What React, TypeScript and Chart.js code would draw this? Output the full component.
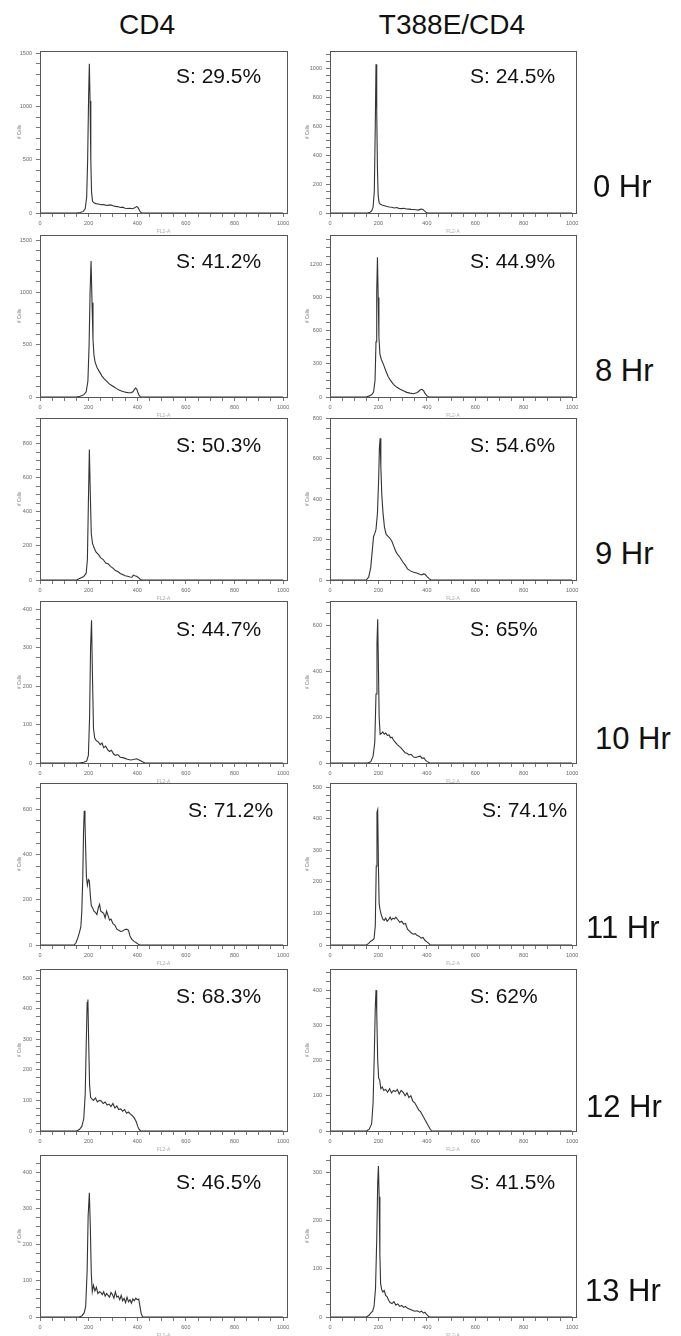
import React, { useEffect, useRef } from 'react';
import { Chart, registerables } from 'chart.js';
Chart.register(...registerables);

type Pt = [number, number];

// ---------- text & scale data ----------
const columnTitles = ['CD4', 'T388E/CD4'];
const hourLabels = ['0 Hr', '8 Hr', '9 Hr', '10 Hr', '11 Hr', '12 Hr', '13 Hr'];
const sPhaseCD4 = ['S: 29.5%', 'S: 41.2%', 'S: 50.3%', 'S: 44.7%', 'S: 71.2%', 'S: 68.3%', 'S: 46.5%'];
const sPhaseT388E = ['S: 24.5%', 'S: 44.9%', 'S: 54.6%', 'S: 65%', 'S: 74.1%', 'S: 62%', 'S: 41.5%'];
const xMajorStep = 200;
const xMinorStep = 50;
const xMax = 1016;
const yMaxCD4 = [1519, 1548, 950, 422, 718, 530, 449];
const yMaxT388E = [1121, 1467, 800, 705, 513, 460, 337];
const yMajorCD4 = [500, 500, 200, 100, 200, 100, 100];
const yMajorT388E = [200, 300, 200, 200, 100, 100, 100];
const yAxisTitle = '# Cells';
const xAxisTitle = 'FL2-A';

// ---------- histogram data: [channel, # cells] ----------
const cd4_0hr: Pt[] = [[0,0],[150,0],[165,5],[178,15],[186,40],[192,150],[196,500],[200,1100],[203,1400],[206,1050],[209,500],[212,200],[216,110],[222,95],[230,88],[240,85],[250,78],[260,80],[270,74],[280,72],[290,76],[300,68],[310,62],[320,60],[330,52],[340,55],[350,45],[360,42],[370,44],[380,40],[390,48],[397,60],[402,55],[407,35],[412,12],[418,0],[1000,0]];
const t388e_0hr: Pt[] = [[0,0],[155,0],[165,5],[172,15],[178,40],[183,150],[187,600],[190,1030],[193,700],[196,300],[199,120],[203,70],[208,60],[215,55],[225,50],[235,45],[245,42],[255,40],[265,35],[275,38],[285,32],[295,30],[305,33],[315,28],[325,27],[335,25],[345,24],[355,22],[365,20],[372,25],[378,28],[384,25],[390,15],[396,6],[402,0],[1000,0]];
const cd4_8hr: Pt[] = [[0,0],[150,0],[165,8],[180,20],[190,50],[197,150],[202,500],[206,1000],[210,1300],[214,900],[218,550],[222,400],[227,330],[235,280],[245,240],[255,200],[265,170],[275,150],[285,125],[295,110],[305,95],[315,80],[325,68],[335,58],[345,50],[355,44],[365,40],[375,42],[382,50],[388,70],[393,85],[398,75],[403,40],[408,15],[414,0],[1000,0]];
const t388e_8hr: Pt[] = [[0,0],[150,0],[160,8],[172,20],[180,45],[186,150],[190,500],[193,950],[196,1265],[199,900],[202,550],[206,390],[212,340],[220,300],[230,240],[240,185],[250,150],[262,115],[275,90],[290,70],[305,55],[317,42],[330,35],[345,30],[358,38],[366,50],[373,65],[380,70],[387,55],[393,30],[400,12],[408,0],[1000,0]];
const cd4_9hr: Pt[] = [[0,0],[150,0],[165,10],[180,20],[190,40],[195,120],[199,450],[203,765],[207,500],[211,270],[216,215],[222,190],[230,165],[240,150],[250,130],[260,120],[270,100],[280,95],[290,80],[300,70],[310,55],[320,50],[330,38],[340,32],[350,25],[360,22],[370,18],[378,16],[384,28],[390,25],[397,22],[404,15],[411,6],[418,0],[1000,0]];
const t388e_9hr: Pt[] = [[0,0],[150,0],[160,15],[168,60],[175,150],[180,215],[185,230],[190,250],[196,330],[201,500],[204,650],[207,700],[210,560],[214,420],[219,330],[225,260],[232,225],[240,215],[248,205],[256,190],[264,165],[272,140],[280,125],[290,110],[300,90],[310,75],[320,55],[332,45],[345,38],[358,35],[370,28],[378,25],[386,30],[393,28],[400,18],[408,8],[417,0],[1000,0]];
const cd4_10hr: Pt[] = [[0,0],[160,0],[180,2],[192,5],[199,20],[204,120],[208,300],[212,372],[216,220],[220,90],[225,65],[232,58],[240,55],[248,48],[255,52],[262,40],[270,44],[278,35],[286,30],[294,33],[302,24],[310,20],[320,22],[330,15],[340,14],[350,12],[360,10],[372,8],[385,9],[398,11],[410,7],[422,3],[432,0],[1000,0]];
const t388e_10hr: Pt[] = [[0,0],[155,0],[168,5],[178,30],[185,90],[190,300],[194,520],[197,625],[200,420],[203,200],[207,125],[212,128],[218,135],[224,125],[230,130],[237,120],[244,122],[250,110],[256,112],[262,100],[270,90],[278,80],[286,72],[294,65],[302,55],[310,45],[318,42],[326,35],[335,38],[345,26],[355,24],[365,28],[373,30],[380,20],[388,22],[396,10],[404,5],[412,0],[1000,0]];
const cd4_11hr: Pt[] = [[0,0],[140,0],[148,10],[155,30],[162,55],[168,80],[172,150],[176,300],[179,500],[182,595],[185,550],[188,420],[191,300],[195,265],[199,290],[203,285],[207,220],[211,175],[216,165],[222,150],[228,145],[234,135],[240,165],[245,180],[250,150],[256,145],[262,140],[268,120],[274,150],[280,130],[286,110],[292,115],[300,95],[308,88],[316,70],[324,65],[332,60],[340,62],[348,68],[356,70],[364,65],[370,40],[378,25],[388,15],[396,10],[404,4],[410,0],[1000,0]];
const t388e_11hr: Pt[] = [[0,0],[150,0],[160,5],[168,12],[175,15],[182,20],[187,60],[191,250],[194,420],[197,428],[200,250],[203,130],[207,110],[212,95],[218,82],[224,78],[230,85],[236,75],[242,80],[248,88],[254,80],[260,85],[266,82],[272,88],[280,80],[288,72],[296,75],[304,66],[312,68],[320,50],[328,44],[336,38],[344,34],[352,36],[360,30],[368,28],[376,22],[384,24],[392,15],[400,10],[408,5],[414,0],[1000,0]];
const cd4_12hr: Pt[] = [[0,0],[150,0],[162,5],[172,15],[180,40],[186,120],[190,280],[194,420],[197,430],[200,300],[204,150],[208,110],[213,105],[220,100],[228,108],[236,95],[244,100],[252,98],[260,90],[268,95],[276,85],[284,88],[292,80],[300,90],[308,75],[316,82],[324,70],[332,72],[340,65],[348,70],[356,58],[364,62],[372,55],[380,50],[388,42],[396,30],[402,15],[408,5],[414,0],[1000,0]];
const t388e_12hr: Pt[] = [[0,0],[150,0],[162,5],[172,20],[178,80],[183,220],[187,350],[190,400],[193,340],[197,200],[201,150],[205,145],[210,120],[216,125],[222,115],[230,118],[238,110],[246,120],[254,108],[262,115],[270,112],[278,118],[286,105],[294,115],[302,110],[310,100],[318,108],[326,95],[334,100],[342,85],[350,80],[358,70],[366,60],[374,55],[382,45],[390,35],[398,25],[406,15],[414,5],[420,0],[1000,0]];
const cd4_13hr: Pt[] = [[0,0],[160,0],[172,3],[182,12],[188,30],[194,130],[198,280],[203,344],[207,250],[211,120],[215,70],[220,88],[226,72],[232,82],[238,65],[244,70],[250,68],[256,62],[262,70],[268,58],[274,65],[280,60],[286,55],[292,68],[298,62],[304,52],[310,70],[316,55],[322,58],[328,48],[334,60],[340,45],[346,52],[352,40],[358,55],[364,42],[370,48],[376,38],[382,50],[388,45],[394,52],[400,48],[406,50],[411,30],[416,10],[422,0],[1000,0]];
const t388e_13hr: Pt[] = [[0,0],[150,0],[160,3],[168,8],[176,12],[182,22],[188,60],[193,160],[197,280],[200,314],[203,250],[206,130],[209,70],[213,58],[218,52],[224,55],[230,45],[236,42],[242,35],[248,30],[256,28],[264,32],[272,25],[280,27],[288,22],[296,24],[304,20],[312,22],[320,18],[330,16],[340,14],[350,12],[360,13],[370,10],[378,12],[386,8],[392,10],[398,6],[404,3],[410,0],[1000,0]];

const seriesCD4 = [cd4_0hr, cd4_8hr, cd4_9hr, cd4_10hr, cd4_11hr, cd4_12hr, cd4_13hr];
const seriesT388E = [t388e_0hr, t388e_8hr, t388e_9hr, t388e_10hr, t388e_11hr, t388e_12hr, t388e_13hr];

// ---------- layout ----------
const ROW_TOPS = [51, 235, 418, 601, 783, 969, 1155];
const PLOT_H = 162;
const PAD_T = 4;
const PAD_R = 12;
const X_AXIS_H = 22;
const COLS = [
  { plotLeft: 40, plotW: 247, axisW: 38, titlePad: 15 },
  { plotLeft: 330, plotW: 246, axisW: 36, titlePad: 11 },
];
const S_LEFT = [
  [176, 176, 176, 176, 188, 176, 176],
  [470, 470, 470, 470, 482, 470, 470],
];
const S_CY_OFF = [24, 25, 26.5, 27.5, 26, 26, 26.7];
const HOUR_POS = [
  [593, 186], [595, 370], [595, 553], [595, 738], [586, 927], [586, 1106], [585, 1290],
];
const FONT = '"Liberation Sans", Arial, Helvetica, sans-serif';

const framePlugin = {
  id: 'frame',
  afterDraw(chart: any) {
    const { ctx, chartArea: a } = chart;
    ctx.save();
    ctx.strokeStyle = '#555';
    ctx.lineWidth = 1;
    ctx.strokeRect(Math.round(a.left) + 0.5, Math.round(a.top) + 0.5, Math.round(a.right - a.left), Math.round(a.bottom - a.top));
    ctx.restore();
  },
};

function minorOf(major: number) {
  if (major === 500) return 100;
  if (major === 300) return 75;
  return major / 4;
}

function Panel(props: { data: Pt[]; yMax: number; yMajor: number; col: number; row: number }) {
  const { data, yMax, yMajor, col, row } = props;
  const c = COLS[col];
  const w = c.axisW + c.plotW + PAD_R;
  const h = PAD_T + PLOT_H + X_AXIS_H;
  const left = c.plotLeft - c.axisW;
  const top = ROW_TOPS[row] - PAD_T;
  const ref = useRef<HTMLCanvasElement>(null);

  useEffect(() => {
    const tickFont = { family: FONT, size: 5.5 };
    const grid = {
      drawOnChartArea: false,
      drawTicks: true,
      tickLength: 4,
      tickColor: '#777',
      color: '#777',
      lineWidth: 1,
    };
    const chart = new Chart(ref.current as HTMLCanvasElement, {
      type: 'line',
      data: {
        datasets: [
          {
            data: data.map(([x, y]) => ({ x, y })),
            borderColor: '#333',
            borderWidth: 1.1,
            pointRadius: 0,
            fill: false,
            tension: 0,
          },
        ],
      },
      options: {
        animation: false,
        responsive: false,
        maintainAspectRatio: false,
        events: [],
        layout: { padding: { top: PAD_T, right: PAD_R, left: 0, bottom: 0 } },
        plugins: { legend: { display: false }, tooltip: { enabled: false } },
        scales: {
          x: {
            type: 'linear',
            min: 0,
            max: xMax,
            border: { display: false },
            grid,
            ticks: {
              stepSize: xMinorStep,
              autoSkip: false,
              includeBounds: false,
              maxRotation: 0,
              minRotation: 0,
              padding: 3,
              color: '#666',
              font: tickFont,
              callback: (v: any) => (Number(v) % xMajorStep === 0 ? String(v) : ''),
            },
            title: {
              display: true,
              text: xAxisTitle,
              color: '#aaa',
              font: { family: FONT, size: 5 },
              padding: { top: 0, bottom: 0 },
            },
            afterFit: (s: any) => {
              s.height = X_AXIS_H;
              s.paddingLeft = 0;
              s.paddingRight = 0;
            },
          },
          y: {
            type: 'linear',
            min: 0,
            max: yMax,
            border: { display: false },
            grid,
            ticks: {
              stepSize: minorOf(yMajor),
              autoSkip: false,
              includeBounds: false,
              padding: 4,
              color: '#666',
              font: tickFont,
              callback: (v: any) => (Number(v) % yMajor === 0 ? String(v) : ''),
            },
            title: {
              display: true,
              text: yAxisTitle,
              color: '#777',
              font: { family: FONT, size: 4.5 },
              padding: { top: c.titlePad, bottom: 0 },
            },
            afterFit: (s: any) => {
              s.width = c.axisW;
              s.paddingTop = 0;
              s.paddingBottom = 0;
            },
          },
        },
      } as any,
      plugins: [framePlugin],
    });
    return () => chart.destroy();
  }, []);

  return (
    <canvas
      ref={ref}
      width={w}
      height={h}
      style={{ position: 'absolute', left, top, width: w, height: h, display: 'block' }}
    />
  );
}

export default function App() {
  const titleSize = 28;
  const sSize = 21;
  const hrSize = 31;
  return (
    <div
      style={{
        position: 'absolute',
        left: 0,
        top: 0,
        width: 681,
        height: 1336,
        background: '#fff',
        overflow: 'hidden',
        fontFamily: FONT,
        color: '#111',
      }}
    >
      {columnTitles.map((t, i) => (
        <div
          key={t}
          style={{
            position: 'absolute',
            left: (i === 0 ? 147 : 452) - 100,
            width: 200,
            top: 25 - titleSize * 0.49,
            fontSize: titleSize,
            lineHeight: 1,
            textAlign: 'center',
            whiteSpace: 'nowrap',
          }}
        >
          {t}
        </div>
      ))}
      {ROW_TOPS.map((_, r) => (
        <React.Fragment key={r}>
          <Panel data={seriesCD4[r]} yMax={yMaxCD4[r]} yMajor={yMajorCD4[r]} col={0} row={r} />
          <Panel data={seriesT388E[r]} yMax={yMaxT388E[r]} yMajor={yMajorT388E[r]} col={1} row={r} />
          {[sPhaseCD4[r], sPhaseT388E[r]].map((s, ci) => (
            <div
              key={ci}
              style={{
                position: 'absolute',
                left: S_LEFT[ci][r],
                top: ROW_TOPS[r] + S_CY_OFF[r] - sSize * 0.49,
                fontSize: sSize,
                lineHeight: 1,
                whiteSpace: 'nowrap',
              }}
            >
              {s}
            </div>
          ))}
          <div
            style={{
              position: 'absolute',
              left: HOUR_POS[r][0],
              top: HOUR_POS[r][1] - hrSize * 0.49,
              fontSize: hrSize,
              lineHeight: 1,
              whiteSpace: 'nowrap',
            }}
          >
            {hourLabels[r]}
          </div>
        </React.Fragment>
      ))}
    </div>
  );
}
